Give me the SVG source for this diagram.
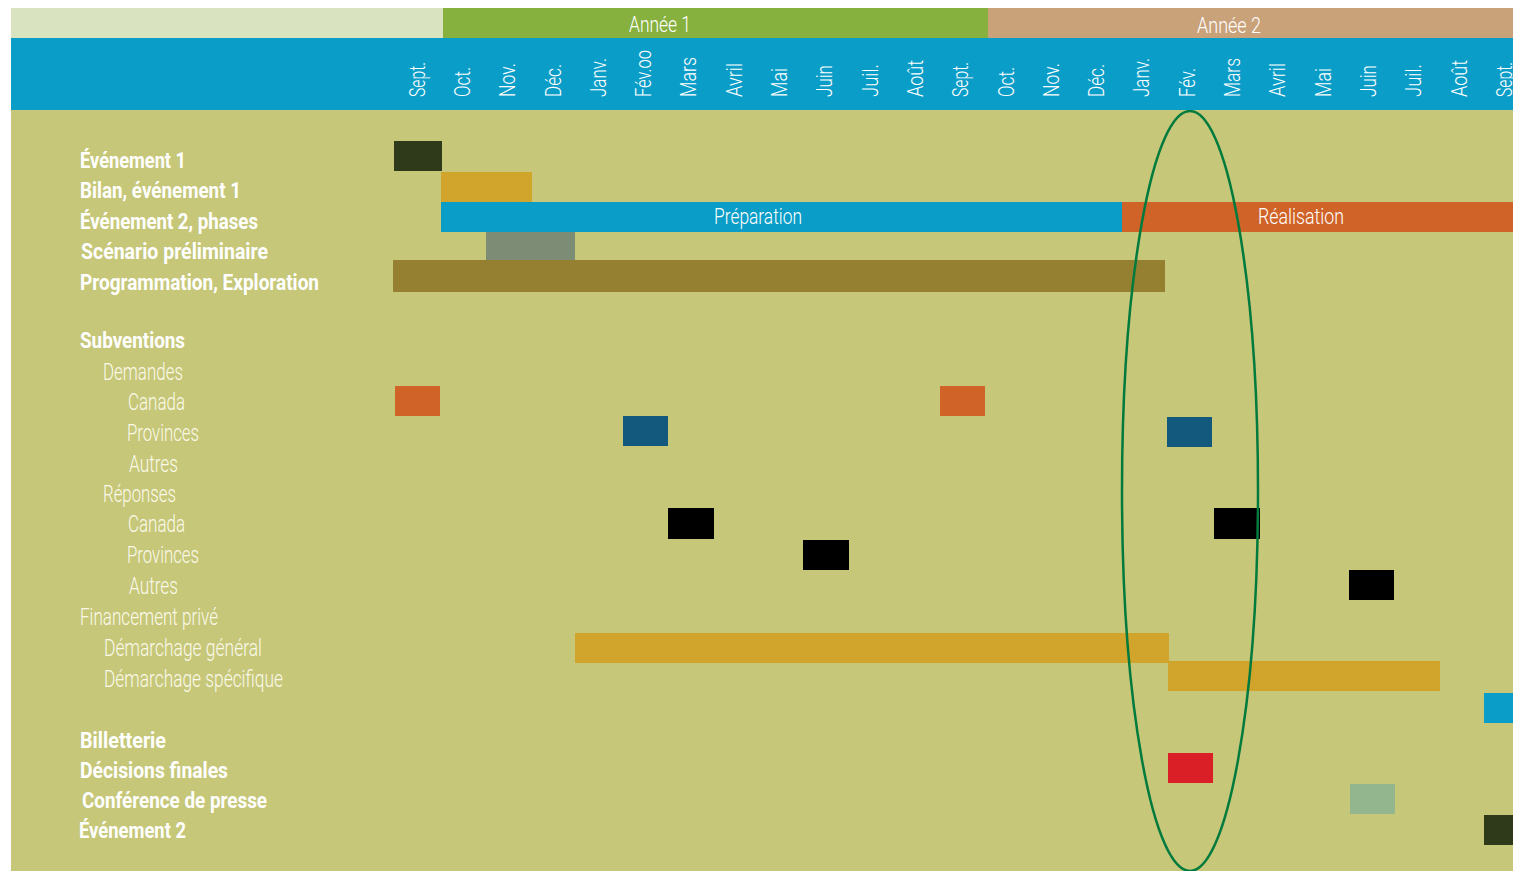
<svg xmlns="http://www.w3.org/2000/svg" width="1513" height="871" viewBox="0 0 1513 871">
<style>
.bold{font-family:Roboto,"Liberation Sans Narrow","Liberation Sans",sans-serif;font-weight:700;font-size:22px;fill:#ffffff}
.light{font-family:Roboto,"Liberation Sans Narrow","Liberation Sans",sans-serif;font-weight:300;font-size:23px;fill:#fbfaea}
.month{font-family:Roboto,"Liberation Sans Narrow","Liberation Sans",sans-serif;font-weight:300;font-size:22px;fill:#ffffff}
.bartxt{font-family:Roboto,"Liberation Sans Narrow","Liberation Sans",sans-serif;font-weight:300;font-size:22px;fill:#ffffff;text-anchor:middle}
</style>
<rect x="0" y="0" width="1513" height="871" fill="#ffffff"/>
<g id="background">
<rect x="11" y="8" width="432" height="30" fill="#dae3bf"/>
<rect x="443" y="8" width="545" height="30" fill="#86b13f"/>
<rect x="988" y="8" width="525" height="30" fill="#c9a27a"/>
<rect x="11" y="38" width="1502" height="72" fill="#0a9dc7"/>
<rect x="11" y="110" width="1502" height="761" fill="#c6c779"/>
<text class="bartxt" x="660" y="32" textLength="62" lengthAdjust="spacingAndGlyphs">Année 1</text>
<text class="bartxt" x="1229" y="33" textLength="64" lengthAdjust="spacingAndGlyphs">Année 2</text>
</g>
<g id="months">
<text class="month" transform="translate(424.6,97) rotate(-90)" textLength="35" lengthAdjust="spacingAndGlyphs">Sept.</text>
<text class="month" transform="translate(469.9,97) rotate(-90)" textLength="30" lengthAdjust="spacingAndGlyphs">Oct.</text>
<text class="month" transform="translate(515.2,97) rotate(-90)" textLength="34" lengthAdjust="spacingAndGlyphs">Nov.</text>
<text class="month" transform="translate(560.5,97) rotate(-90)" textLength="33" lengthAdjust="spacingAndGlyphs">Déc.</text>
<text class="month" transform="translate(605.8,97) rotate(-90)" textLength="39" lengthAdjust="spacingAndGlyphs">Janv.</text>
<text class="month" transform="translate(651.1,97) rotate(-90)" textLength="47" lengthAdjust="spacingAndGlyphs">Fév.oo</text>
<text class="month" transform="translate(696.4,97) rotate(-90)" textLength="40" lengthAdjust="spacingAndGlyphs">Mars</text>
<text class="month" transform="translate(741.7,97) rotate(-90)" textLength="34" lengthAdjust="spacingAndGlyphs">Avril</text>
<text class="month" transform="translate(787,97) rotate(-90)" textLength="29" lengthAdjust="spacingAndGlyphs">Mai</text>
<text class="month" transform="translate(832.3,97) rotate(-90)" textLength="32" lengthAdjust="spacingAndGlyphs">Juin</text>
<text class="month" transform="translate(877.6,97) rotate(-90)" textLength="33" lengthAdjust="spacingAndGlyphs">Juil.</text>
<text class="month" transform="translate(922.9,97) rotate(-90)" textLength="37" lengthAdjust="spacingAndGlyphs">Août</text>
<text class="month" transform="translate(968.2,97) rotate(-90)" textLength="35" lengthAdjust="spacingAndGlyphs">Sept.</text>
<text class="month" transform="translate(1013.5,97) rotate(-90)" textLength="30" lengthAdjust="spacingAndGlyphs">Oct.</text>
<text class="month" transform="translate(1058.8,97) rotate(-90)" textLength="34" lengthAdjust="spacingAndGlyphs">Nov.</text>
<text class="month" transform="translate(1104.1,97) rotate(-90)" textLength="33" lengthAdjust="spacingAndGlyphs">Déc.</text>
<text class="month" transform="translate(1149.4,97) rotate(-90)" textLength="39" lengthAdjust="spacingAndGlyphs">Janv.</text>
<text class="month" transform="translate(1194.7,97) rotate(-90)" textLength="29" lengthAdjust="spacingAndGlyphs">Fév.</text>
<text class="month" transform="translate(1240,97) rotate(-90)" textLength="39" lengthAdjust="spacingAndGlyphs">Mars</text>
<text class="month" transform="translate(1285.3,97) rotate(-90)" textLength="34" lengthAdjust="spacingAndGlyphs">Avril</text>
<text class="month" transform="translate(1330.6,97) rotate(-90)" textLength="29" lengthAdjust="spacingAndGlyphs">Mai</text>
<text class="month" transform="translate(1375.9,97) rotate(-90)" textLength="32" lengthAdjust="spacingAndGlyphs">Juin</text>
<text class="month" transform="translate(1421.2,97) rotate(-90)" textLength="33" lengthAdjust="spacingAndGlyphs">Juil.</text>
<text class="month" transform="translate(1466.5,97) rotate(-90)" textLength="37" lengthAdjust="spacingAndGlyphs">Août</text>
<text class="month" transform="translate(1511.8,97) rotate(-90)" textLength="35" lengthAdjust="spacingAndGlyphs">Sept.</text>
</g>
<g id="labels">
<text class="bold" x="80" y="168" textLength="106" lengthAdjust="spacingAndGlyphs">Événement 1</text>
<text class="bold" x="80" y="198" textLength="161" lengthAdjust="spacingAndGlyphs">Bilan, événement 1</text>
<text class="bold" x="80" y="229" textLength="178" lengthAdjust="spacingAndGlyphs">Événement 2, phases</text>
<text class="bold" x="81" y="259" textLength="187" lengthAdjust="spacingAndGlyphs">Scénario préliminaire</text>
<text class="bold" x="80" y="290" textLength="239" lengthAdjust="spacingAndGlyphs">Programmation, Exploration</text>
<text class="bold" x="80" y="348" textLength="105" lengthAdjust="spacingAndGlyphs">Subventions</text>
<text class="light" x="103" y="380" textLength="80" lengthAdjust="spacingAndGlyphs">Demandes</text>
<text class="light" x="128" y="410" textLength="57" lengthAdjust="spacingAndGlyphs">Canada</text>
<text class="light" x="127" y="441" textLength="72" lengthAdjust="spacingAndGlyphs">Provinces</text>
<text class="light" x="129" y="472" textLength="49" lengthAdjust="spacingAndGlyphs">Autres</text>
<text class="light" x="103" y="502" textLength="73" lengthAdjust="spacingAndGlyphs">Réponses</text>
<text class="light" x="128" y="532" textLength="57" lengthAdjust="spacingAndGlyphs">Canada</text>
<text class="light" x="127" y="563" textLength="72" lengthAdjust="spacingAndGlyphs">Provinces</text>
<text class="light" x="129" y="594" textLength="49" lengthAdjust="spacingAndGlyphs">Autres</text>
<text class="light" x="80" y="625" textLength="138" lengthAdjust="spacingAndGlyphs">Financement privé</text>
<text class="light" x="104" y="656" textLength="158" lengthAdjust="spacingAndGlyphs">Démarchage général</text>
<text class="light" x="104" y="687" textLength="179" lengthAdjust="spacingAndGlyphs">Démarchage spécifique</text>
<text class="bold" x="80" y="748" textLength="86" lengthAdjust="spacingAndGlyphs">Billetterie</text>
<text class="bold" x="80" y="778" textLength="148" lengthAdjust="spacingAndGlyphs">Décisions finales</text>
<text class="bold" x="82" y="808" textLength="185" lengthAdjust="spacingAndGlyphs">Conférence de presse</text>
<text class="bold" x="79" y="838" textLength="107" lengthAdjust="spacingAndGlyphs">Événement 2</text>
</g>
<g id="bars">
<rect x="394" y="141" width="48" height="30" fill="#2f3a1a"/>
<rect x="441" y="172" width="91" height="30" fill="#d1a52b"/>
<rect x="441" y="202" width="681" height="30" fill="#0a9dc7"/>
<rect x="1122" y="202" width="391" height="30" fill="#cf6328"/>
<text class="bartxt" x="758" y="224" textLength="88" lengthAdjust="spacingAndGlyphs">Préparation</text>
<text class="bartxt" x="1301" y="224" textLength="86" lengthAdjust="spacingAndGlyphs">Réalisation</text>
<rect x="486" y="232" width="89" height="28" fill="#7d8d75"/>
<rect x="393" y="260" width="772" height="32" fill="#958031"/>
<rect x="395" y="386" width="45" height="30" fill="#cf6328"/>
<rect x="940" y="386" width="45" height="30" fill="#cf6328"/>
<rect x="623" y="416" width="45" height="30" fill="#12597d"/>
<rect x="1167" y="417" width="45" height="30" fill="#12597d"/>
<rect x="668" y="508" width="46" height="31" fill="#000000"/>
<rect x="1214" y="508" width="46" height="31" fill="#000000"/>
<rect x="803" y="540" width="46" height="30" fill="#000000"/>
<rect x="1349" y="570" width="45" height="30" fill="#000000"/>
<rect x="575" y="633" width="594" height="30" fill="#d1a52b"/>
<rect x="1168" y="661" width="272" height="30" fill="#d1a52b"/>
<rect x="1484" y="693" width="29" height="30" fill="#0a9dc7"/>
<rect x="1168" y="753" width="45" height="30" fill="#da1f27"/>
<rect x="1350" y="784" width="45" height="30" fill="#94b68f"/>
<rect x="1484" y="815" width="29" height="30" fill="#2f3a1a"/>
</g>
<g id="connectors">
<ellipse cx="1190" cy="491" rx="68" ry="380" fill="none" stroke="#007a3d" stroke-width="2.5"/>
</g>
</svg>
